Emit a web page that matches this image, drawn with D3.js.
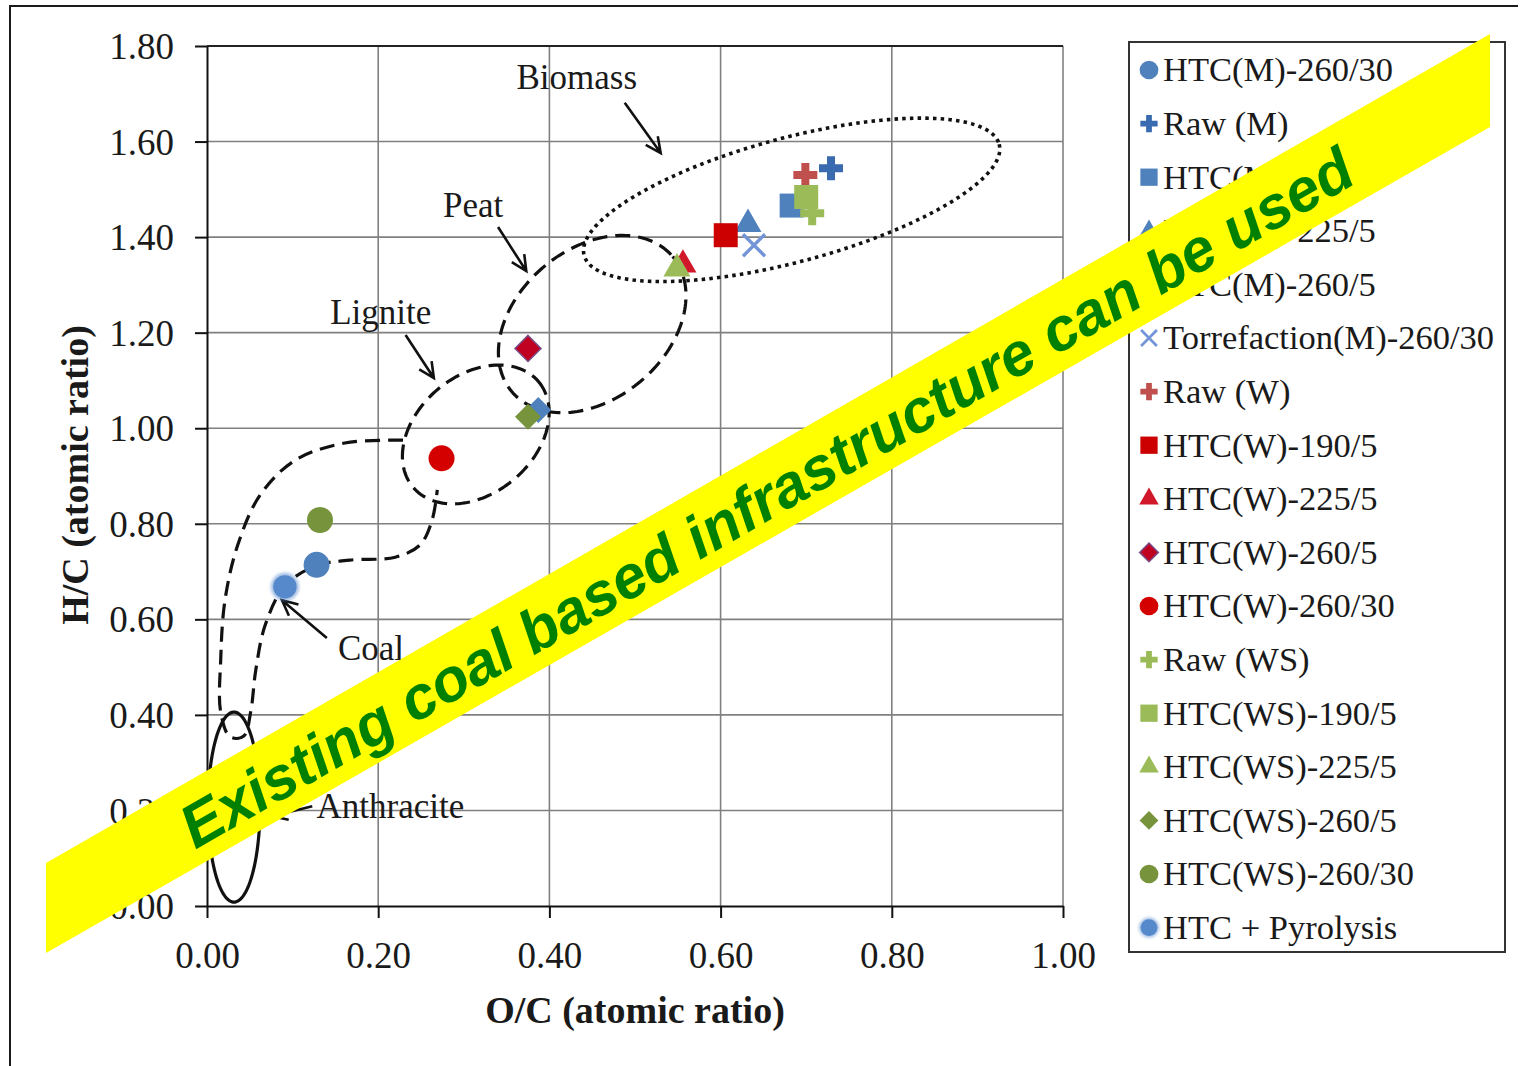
<!DOCTYPE html>
<html>
<head>
<meta charset="utf-8">
<script src="https://cdn.jsdelivr.net/npm/d3@7"></script>
<style>
  html, body { margin: 0; padding: 0; background: #ffffff; }
  svg { display: block; }
</style>
</head>
<body>
<svg id="chart" width="1522" height="1066"></svg>
<script>
// ---- data: van Krevelen diagram (atomic O/C vs H/C) ----
const seriesNames = [
  "HTC(M)-260/30", "Raw (M)", "HTC(M)-190/5", "HTC(M)-225/5", "HTC(M)-260/5",
  "Torrefaction(M)-260/30", "Raw (W)", "HTC(W)-190/5", "HTC(W)-225/5", "HTC(W)-260/5",
  "HTC(W)-260/30", "Raw (WS)", "HTC(WS)-190/5", "HTC(WS)-225/5", "HTC(WS)-260/5",
  "HTC(WS)-260/30", "HTC + Pyrolysis"
];
const ocRatio = [0.128, 0.729, 0.683, 0.632, 0.387, 0.639, 0.699, 0.606, 0.556, 0.375,
                 0.274, 0.707, 0.700, 0.549, 0.375, 0.132, 0.091];
const hcRatio = [0.714, 1.544, 1.466, 1.427, 1.038, 1.383, 1.530, 1.404, 1.342, 1.167,
                 0.937, 1.450, 1.484, 1.334, 1.024, 0.808, 0.668];

const xTickValues = [0, 0.2, 0.4, 0.6, 0.8, 1.0];
const xTickLabels = ["0.00", "0.20", "0.40", "0.60", "0.80", "1.00"];
const yTickValues = [0, 0.2, 0.4, 0.6, 0.8, 1.0, 1.2, 1.4, 1.6, 1.8];
const yTickLabels = ["0.00", "0.20", "0.40", "0.60", "0.80", "1.00", "1.20", "1.40", "1.60", "1.80"];

// ---- marker styling per series ----
const markerShapes = ["circle", "plus", "square", "triangle", "diamond", "cross", "plus", "square",
                      "triangle", "diamond", "circle", "plus", "square", "triangle", "diamond",
                      "circle", "circle"];
const markerColors = ["#4f81bd", "#3a6bb0", "#4f81bd", "#4f81bd", "#4f81bd", "#7395d8", "#c0504d",
                      "#cc0000", "#d0182a", "#c00020", "#d40000", "#9bbb59", "#9bbb59", "#9bbb59",
                      "#77933c", "#77933c", "#5689cc"];

// ---- region annotations (in data units; radii in O/C units) ----
const regionEllipses = [
  { name: "biomass", cx: 0.683, cy: 1.478, a: 0.251, b: 0.0724, angle: -15, dash: "3.5,4.2", width: 3.6 },
  { name: "peat", cx: 0.450, cy: 1.218, a: 0.1227, b: 0.0876, angle: -40, dash: "15,8", width: 3.2 },
  { name: "lignite", cx: 0.314, cy: 0.987, a: 0.0958, b: 0.0689, angle: -40, dash: "15,8", width: 3.2 },
  { name: "anthracite", cx: 0.0315, cy: 0.207, a: 0.0304, b: 0.111, angle: 0, dash: null, width: 3.2 }
];
const coalOutline = [
  [0.229, 0.975], [0.161, 0.969], [0.103, 0.933], [0.062, 0.860], [0.036, 0.756],
  [0.021, 0.640], [0.016, 0.515], [0.016, 0.406], [0.027, 0.354], [0.043, 0.356],
  [0.051, 0.406], [0.057, 0.494], [0.068, 0.588], [0.091, 0.670], [0.127, 0.712],
  [0.167, 0.724], [0.220, 0.730], [0.249, 0.756], [0.263, 0.808], [0.269, 0.871]
];
const regionLabels = [
  { text: "Biomass", x: 0.432, y: 1.735, anchor: "middle" },
  { text: "Peat", x: 0.311, y: 1.467, anchor: "middle" },
  { text: "Lignite", x: 0.203, y: 1.243, anchor: "middle" },
  { text: "Coal", x: 0.153, y: 0.540, anchor: "start" },
  { text: "Anthracite", x: 0.128, y: 0.209, anchor: "start" }
];
const regionArrows = [
  { from: [0.488, 1.681], to: [0.530, 1.576] },
  { from: [0.340, 1.421], to: [0.373, 1.329] },
  { from: [0.232, 1.195], to: [0.265, 1.105] },
  { from: [0.140, 0.561], to: [0.0876, 0.640] },
  { from: [0.123, 0.209], to: [0.076, 0.188] }
];

// ---- layout ----
const svg = d3.select("#chart");
const W = 1522, H = 1066;
const plot = { left: 207, right: 1063, top: 46, bottom: 906 };
const serif = "'Liberation Serif', 'Times New Roman', serif";
const sans = "'Liberation Sans', Arial, sans-serif";

const x = d3.scaleLinear().domain([0, 1.0]).range([plot.left, plot.right]);
const y = d3.scaleLinear().domain([0, 1.8]).range([plot.bottom, plot.top]);
const pxPerUnit = x(1) - x(0);

const defs = svg.append("defs");
defs.append("filter").attr("id", "soft").attr("x", "-50%").attr("y", "-50%")
  .attr("width", "200%").attr("height", "200%")
  .append("feGaussianBlur").attr("stdDeviation", 1.6);

svg.append("rect").attr("width", W).attr("height", H).attr("fill", "#ffffff");

// outer frame (top and left edges)
svg.append("path")
  .attr("d", `M10,1066 L10,6 L1518,6`)
  .attr("fill", "none").attr("stroke", "#1a1a1a").attr("stroke-width", 2);

// gridlines
const grid = svg.append("g").attr("stroke", "#808080").attr("stroke-width", 1.6);
grid.selectAll("line.v").data(xTickValues.slice(1)).join("line")
  .attr("x1", d => x(d)).attr("x2", d => x(d))
  .attr("y1", plot.top).attr("y2", plot.bottom);
grid.selectAll("line.h").data(yTickValues.slice(1)).join("line")
  .attr("x1", plot.left).attr("x2", plot.right)
  .attr("y1", d => y(d)).attr("y2", d => y(d));

// axes with outside ticks
const yAxis = d3.axisLeft(y).tickValues(yTickValues).tickSize(12)
  .tickFormat((d, i) => yTickLabels[i]).tickSizeOuter(0);
const xAxis = d3.axisBottom(x).tickValues(xTickValues).tickSize(12)
  .tickFormat((d, i) => xTickLabels[i]).tickSizeOuter(0);

const gy = svg.append("g").attr("transform", `translate(${plot.left},0)`).call(yAxis);
const gx = svg.append("g").attr("transform", `translate(0,${plot.bottom})`).call(xAxis);
[gx, gy].forEach(g => {
  g.select(".domain").attr("stroke", "#111").attr("stroke-width", 2);
  g.selectAll(".tick line").attr("stroke", "#111").attr("stroke-width", 2);
  g.selectAll(".tick text").attr("fill", "#1a1a1a").attr("font-family", serif).attr("font-size", 37);
});
gy.selectAll(".tick text").attr("x", -33).attr("dy", "0.34em");
gx.selectAll(".tick text").attr("y", 49).attr("dy", "0.34em");
// top frame line at 1.80
svg.append("line").attr("x1", plot.left).attr("x2", plot.right)
  .attr("y1", y(1.8)).attr("y2", y(1.8)).attr("stroke", "#222").attr("stroke-width", 2);

// axis titles
svg.append("text").attr("x", 635).attr("y", 1010).attr("dy", "0.34em")
  .attr("text-anchor", "middle").attr("font-family", serif).attr("font-weight", "bold")
  .attr("font-size", 38).attr("fill", "#1a1a1a").text("O/C (atomic ratio)");
svg.append("text").attr("transform", "translate(75,475) rotate(-90)").attr("dy", "0.34em")
  .attr("text-anchor", "middle").attr("font-family", serif).attr("font-weight", "bold")
  .attr("font-size", 38).attr("fill", "#1a1a1a").text("H/C (atomic ratio)");

// ---- region outlines ----
function ellipsePath(e) {
  const cx = x(e.cx), cy = y(e.cy);
  const a = e.a * pxPerUnit, b = e.b * pxPerUnit;
  const t = e.angle * Math.PI / 180;
  const pts = d3.range(0, 361, 2).map(deg => {
    const p = deg * Math.PI / 180;
    const ex = a * Math.cos(p), ey = b * Math.sin(p);
    return [cx + ex * Math.cos(t) - ey * Math.sin(t), cy + ex * Math.sin(t) + ey * Math.cos(t)];
  });
  return d3.line()(pts) + "Z";
}
const regions = svg.append("g").attr("fill", "none").attr("stroke", "#111");
regions.selectAll("path.ell").data(regionEllipses).join("path")
  .attr("d", ellipsePath)
  .attr("stroke-width", d => d.width)
  .attr("stroke-dasharray", d => d.dash);
regions.append("path")
  .attr("d", d3.line().x(d => x(d[0])).y(d => y(d[1])).curve(d3.curveCatmullRom.alpha(0.5))(coalOutline))
  .attr("stroke-width", 3.2).attr("stroke-dasharray", "15,8");

// arrows with open heads
const arrows = svg.append("g").attr("stroke", "#111").attr("stroke-width", 2.6).attr("fill", "none");
regionArrows.forEach(ar => {
  const x1 = x(ar.from[0]), y1 = y(ar.from[1]), x2 = x(ar.to[0]), y2 = y(ar.to[1]);
  const ang = Math.atan2(y2 - y1, x2 - x1);
  const L = 17, spread = 0.45;
  const h1 = [x2 - L * Math.cos(ang - spread), y2 - L * Math.sin(ang - spread)];
  const h2 = [x2 - L * Math.cos(ang + spread), y2 - L * Math.sin(ang + spread)];
  arrows.append("path").attr("d", `M${x1},${y1}L${x2},${y2}M${h1[0]},${h1[1]}L${x2},${y2}L${h2[0]},${h2[1]}`);
});

svg.append("g").selectAll("text").data(regionLabels).join("text")
  .attr("x", d => x(d.x)).attr("y", d => y(d.y)).attr("dy", "0.34em")
  .attr("text-anchor", d => d.anchor)
  .attr("font-family", serif).attr("font-size", 35).attr("fill", "#1a1a1a")
  .text(d => d.text);

// ---- marker shapes ----
function markerPath(shape, s) {
  switch (shape) {
    case "circle": return d3.symbol(d3.symbolCircle, Math.PI * (13 * s) ** 2)();
    case "square": return d3.symbol(d3.symbolSquare, (24 * s) ** 2)();
    case "triangle": return d3.symbol(d3.symbolTriangle, Math.sqrt(3) / 4 * (27 * s) ** 2)();
    case "diamond": {
      const h = 13 * s;
      return `M0,${-h}L${h},0L0,${h}L${-h},0Z`;
    }
    case "plus": {
      const a = 12 * s, t = 4 * s;
      return `M${-t},${-a}H${t}V${-t}H${a}V${t}H${t}V${a}H${-t}V${t}H${-a}V${-t}H${-t}Z`;
    }
    case "cross": {
      const a = 11 * s;
      return `M${-a},${-a}L${a},${a}M${a},${-a}L${-a},${a}`;
    }
  }
}
function drawMarker(g, i, s) {
  const shape = markerShapes[i], col = markerColors[i];
  const isPyro = i === seriesNames.length - 1;
  if (isPyro) {
    // soft glow around the pyrolysis point
    g.append("path").attr("d", markerPath("circle", s * 1.08)).attr("fill", col)
      .attr("opacity", 0.55).attr("filter", "url(#soft)");
  }
  const p = g.append("path").attr("d", markerPath(shape, isPyro ? s * 0.9 : s));
  if (shape === "cross") {
    p.attr("fill", "none").attr("stroke", col).attr("stroke-width", 3.4 * Math.max(s, 0.8));
  } else {
    p.attr("fill", col);
    if (seriesNames[i] === "HTC(W)-260/5") p.attr("stroke", "#7a4a86").attr("stroke-width", 1.5);
  }
}

// points
const pts = svg.append("g");
seriesNames.forEach((name, i) => {
  const g = pts.append("g").attr("transform", `translate(${x(ocRatio[i])},${y(hcRatio[i])})`);
  drawMarker(g, i, 1);
});

// ---- legend ----
const legend = svg.append("g");
legend.append("rect").attr("x", 1129).attr("y", 42).attr("width", 376).attr("height", 910)
  .attr("fill", "#ffffff").attr("stroke", "#333").attr("stroke-width", 2);
seriesNames.forEach((name, i) => {
  const ry = 70 + i * 53.6;
  const g = legend.append("g").attr("transform", `translate(1149,${ry})`);
  drawMarker(g, i, 0.72);
  legend.append("text").attr("x", 1163).attr("y", ry).attr("dy", "0.33em")
    .attr("font-family", serif).attr("font-size", 34.5).attr("fill", "#1a1a1a").text(name);
});

// ---- diagonal banner ----
svg.append("path")
  .attr("d", "M46,863 L1490,34 L1490,127 L46,953 Z")
  .attr("fill", "#ffff00");
const bAngle = Math.atan2(34 - 863, 1490 - 46) * 180 / Math.PI;
svg.append("text")
  .attr("transform", `translate(766,497) rotate(${bAngle})`)
  .attr("dy", "0.36em")
  .attr("text-anchor", "middle")
  .attr("font-family", sans).attr("font-weight", "bold").attr("font-style", "italic")
  .attr("font-size", 60.5).attr("fill", "#008000")
  .text("Existing coal based infrastructure can be used");
</script>
</body>
</html>
